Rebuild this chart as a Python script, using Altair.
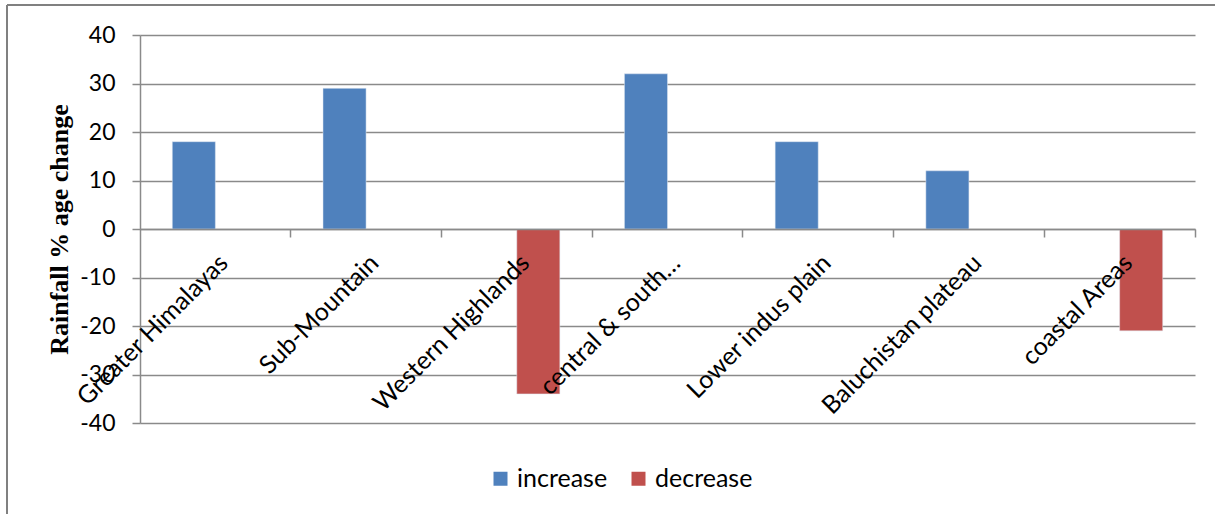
import altair as alt
import pandas as pd

regions = ["Greater Himalayas", "Sub-Mountain", "Western Highlands", "central & south…",
           "Lower indus plain", "Baluchistan plateau", "coastal Areas"]
increase = [18, 29, None, 32, 18, 12, None]
decrease = [None, None, -34, None, None, None, -21]
series = ["increase", "decrease"]
colors = ["#4F81BD", "#C0504D"]

rows = []
for r, inc, dec in zip(regions, increase, decrease):
    if inc is not None:
        rows.append({"region": r, "series": "increase", "value": inc})
    if dec is not None:
        rows.append({"region": r, "series": "decrease", "value": dec})
df = pd.DataFrame(rows)

W, H = 1055, 388
grid = "#8a8a8a"

bars = alt.Chart(df).mark_bar(stroke="#dfe6f0", strokeWidth=0.5).encode(
    x=alt.X("region:N", sort=regions,
            scale=alt.Scale(domain=regions, paddingInner=0, paddingOuter=0),
            axis=alt.Axis(title=None, orient="bottom", offset=-H / 2, zindex=1,
                          domainColor=grid, domainWidth=1.5,
                          tickColor=grid, tickWidth=1.5, tickSize=8,
                          bandPosition=1,
                          labelAngle=-45, labelAlign="right", labelBaseline="top",
                          labelFont="Lato", labelFontSize=25, labelColor="black",
                          labelPadding=13, labelLimit=400, labelOverlap=False,
                          grid=False)),
    xOffset=alt.XOffset("series:N", sort=series,
                        scale=alt.Scale(domain=series, paddingInner=0, paddingOuter=0.75)),
    y=alt.Y("value:Q", scale=alt.Scale(domain=[-40, 40], nice=False),
            axis=alt.Axis(title="Rainfall % age change", values=list(range(-40, 41, 10)),
                          labelExpr="datum.value < 0 ? '-' + abs(datum.value) : '' + datum.value",
                          grid=True, gridColor=grid, gridWidth=1.5,
                          domainColor=grid, domainWidth=1.5,
                          tickColor=grid, tickWidth=1.5, tickSize=8,
                          labelFont="Lato", labelFontSize=23, labelColor="black",
                          labelPadding=17,
                          titleFont="Liberation Serif", titleFontSize=26,
                          titleFontWeight="bold", titleColor="black",
                          titleX=-73, titleY=H / 2, titleAngle=-90,
                          titleAlign="center", titleBaseline="alphabetic")),
    color=alt.Color("series:N", sort=series,
                    scale=alt.Scale(domain=series, range=colors),
                    legend=alt.Legend(title=None, orient="none", legendX=348, legendY=431,
                                      direction="horizontal", symbolType="square",
                                      symbolSize=196, symbolStrokeWidth=0,
                                      labelFont="Lato", labelFontSize=25,
                                      labelColor="black", labelOffset=4,
                                      columnPadding=18)),
)

frame_df = pd.DataFrame({"a": [0]})
top_line = alt.Chart(frame_df).mark_rule(color="#808080", strokeWidth=2).encode(
    x=alt.value(-133), x2=alt.value(1075), y=alt.value(-30))
left_line = alt.Chart(frame_df).mark_rule(color="#808080", strokeWidth=2).encode(
    x=alt.value(-133), y=alt.value(-30), y2=alt.value(479))

chart = alt.layer(bars, top_line, left_line).properties(
    width=W, height=H,
    autosize=alt.AutoSizeParams(type="none"),
    padding={"left": 140, "top": 35, "right": 20, "bottom": 91},
    background="white",
).configure_view(strokeWidth=0)

chart.save("out.html", embed_options={"renderer": "svg", "actions": False})
